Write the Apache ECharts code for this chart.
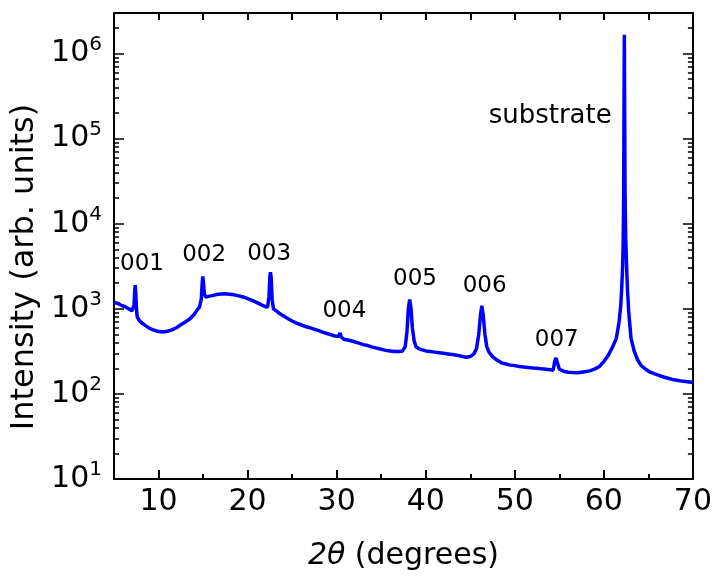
<!DOCTYPE html>
<html>
<head>
<meta charset="utf-8">
<script src="https://cdn.jsdelivr.net/npm/echarts@6/dist/echarts.min.js"></script>
<style>
html,body{margin:0;padding:0;background:#fff;}
#chart{width:715px;height:581px;}
</style>
</head>
<body>
<div id="chart"></div>
<script>
// ---- data ----
const twoTheta = [
5.0,5.25,5.5,5.75,6.0,6.25,6.5,6.75,7.0,7.15,7.25,7.32,7.38,7.45,7.52,7.6,7.8,8.0,8.5,9.0,9.5,10.0,10.5,11.0,11.5,12.0,12.5,13.0,13.5,14.0,14.3,14.6,14.8,14.9,14.97,15.05,15.15,15.3,15.6,16.0,16.5,17.0,17.5,18.0,18.5,19.0,19.5,20.0,20.5,21.0,21.5,22.0,22.25,22.4,22.5,22.57,22.65,22.75,22.9,23.2,23.6,24.0,24.5,25.0,25.5,26.0,26.5,27.0,27.5,28.0,28.5,29.0,29.5,30.0,30.25,30.38,30.5,30.8,31.0,31.5,32.0,32.5,33.0,33.5,34.0,34.5,35.0,35.5,36.0,36.5,37.0,37.4,37.7,37.9,38.05,38.2,38.35,38.5,38.7,38.9,39.2,39.6,40.0,40.5,41.0,41.5,42.0,42.5,43.0,43.5,44.0,44.5,45.0,45.4,45.7,45.95,46.15,46.3,46.45,46.65,46.85,47.1,47.5,48.0,48.5,49.0,49.5,50.0,50.5,51.0,51.5,52.0,52.5,53.0,53.5,54.0,54.3,54.5,54.62,54.8,55.0,55.5,56.0,56.5,57.0,57.5,58.0,58.5,59.0,59.5,60.0,60.5,61.0,61.4,61.7,61.9,62.0,62.1,62.17,62.22,62.26,62.3,62.34,62.38,62.45,62.55,62.65,62.8,63.05,63.4,63.8,64.2,64.7,65.2,65.7,66.2,66.7,67.2,67.7,68.2,68.7,69.2,69.6,70.0
];
const intensity = [
1200,1170,1150,1110,1080,1060,1020,990,950,930,1100,1600,1900,1500,1000,810,740,700,640,590,560,540,535,545,565,600,650,700,760,860,960,1050,1300,2000,2400,2000,1500,1380,1400,1430,1470,1490,1500,1480,1460,1420,1380,1320,1260,1190,1120,1060,1050,1400,2400,2700,2300,1300,1000,950,880,830,770,720,680,650,620,600,575,555,530,510,490,475,480,520,470,440,440,425,410,395,380,370,355,345,335,325,320,315,315,320,360,550,1000,1290,1000,600,420,360,340,330,320,315,310,305,300,295,290,285,278,270,275,295,340,500,850,1090,850,500,360,310,275,250,232,225,218,215,210,207,205,202,200,197,195,192,190,245,265,230,195,185,180,178,177,180,183,188,197,210,240,285,360,450,690,1100,1700,3000,6000,20000,200000,1660000,200000,25000,7000,3200,1700,900,450,320,250,215,195,180,172,165,158,153,148,145,142,140,138,136
];
const peakNames = ['001','002','003','004','005','006','007','substrate'];
const peakLabelX = [8.2,15.17,22.48,30.92,38.85,46.67,54.77,54.03];
const peakLabelY = [3340,4200,4380,920,2190,1820,425,182000];
const xMajorTicks = [10,20,30,40,50,60,70];
const xMinorTicks = [15,25,35,45,55,65];
const yMajorTicks = [10,100,1000,10000,100000,1000000];
const yDecades = [10,100,1000,10000,100000,1000000];
const yMinorMultipliers = [2,3,4,5,6,7,8,9];
const yMinorTicks = [];
yDecades.forEach(d=>{yMinorMultipliers.forEach(m=>{const v=m*d; if(v<3e6) yMinorTicks.push(v);});});

const FONT = 'DejaVu Sans';
const chart = echarts.init(document.getElementById('chart'), null, {renderer:'canvas'});
function xAx(pos, ticks, len, withLabel, showLine){
  return {
    type:'value', min:5, max:70, position:pos, gridIndex:0,
    axisLine:{show:showLine, onZero:false, lineStyle:{color:'#000',width:2}},
    axisTick:{show:true, inside:true, length:len, customValues:ticks, lineStyle:{color:'#000',width:2}},
    axisLabel:{show:withLabel, customValues:ticks, color:'#000', fontSize:30, fontFamily:FONT, margin:8},
    splitLine:{show:false}
  };
}
function yAx(pos, ticks, len, withLabel, showLine){
  return {
    type:'log', logBase:10, min:10, max:3e6, position:pos, gridIndex:0,
    axisLine:{show:showLine, onZero:false, lineStyle:{color:'#000',width:2}},
    axisTick:{show:true, inside:true, length:len, customValues:ticks, lineStyle:{color:'#000',width:1.5}},
    axisLabel:{show:withLabel, customValues:ticks, color:'#000', fontFamily:FONT, margin:12,
      formatter: v => '{a|10}{b|' + Math.round(Math.log10(v)) + '}',
      rich:{a:{fontSize:30, fontFamily:FONT, color:'#000'}, b:{fontSize:20, fontFamily:FONT, color:'#000', padding:[0,0,18,0]}}},
    splitLine:{show:false}
  };
}
const xAxes = [xAx('bottom', xMajorTicks, 9, true, true), xAx('bottom', xMinorTicks, 5, false, false),
               xAx('top', xMajorTicks, 7, false, true), xAx('top', xMinorTicks, 7, false, false)];
xAxes[0].name = '{i|2θ} (degrees)';
xAxes[0].nameLocation = 'middle';
xAxes[0].nameGap = 62;
xAxes[0].nameTextStyle = {color:'#000', fontSize:30, fontFamily:FONT, rich:{i:{fontStyle:'italic', fontSize:30, fontFamily:FONT, color:'#000'}}};
const yAxes = [yAx('left', yMajorTicks, 10, true, true), yAx('left', yMinorTicks, 5, false, false),
               yAx('right', yMajorTicks, 10, false, true), yAx('right', yMinorTicks, 5, false, false)];
yAxes[0].name = 'Intensity (arb. units)';
yAxes[0].nameLocation = 'middle';
yAxes[0].nameGap = 66;
yAxes[0].nameTextStyle = {color:'#000', fontSize:32, fontFamily:FONT, padding:[0,42,0,0]};

const xrd = twoTheta.map((x,i)=>[x,intensity[i]]);
const labelData = peakNames.map((n,i)=>({
  value:[peakLabelX[i], peakLabelY[i]],
  name:n,
  label:{fontSize: n==='substrate' ? 26 : 23, color:'#000', opacity:1}
}));

chart.setOption({
  animation:false,
  backgroundColor:'#fff',
  grid:{left:114, right:22, top:13, bottom:102, containLabel:false},
  xAxis:xAxes,
  yAxis:yAxes,
  series:[
    {type:'line', xAxisIndex:0, yAxisIndex:0, data:xrd, showSymbol:false, symbol:'none',
     lineStyle:{color:'#0000ff', width:3.5}, clip:true, z:3},
    {type:'scatter', xAxisIndex:0, yAxisIndex:0, data:labelData, symbolSize:1, silent:true,
     itemStyle:{color:'#ffffff', opacity:1},
     label:{show:true, position:[0,0], align:'center', verticalAlign:'middle', color:'#000', opacity:1, fontFamily:FONT,
       formatter:'{b}'},
     emphasis:{disabled:true},
     labelLayout:{hideOverlap:false},
     z:4}
  ]
});
</script>
</body>
</html>
